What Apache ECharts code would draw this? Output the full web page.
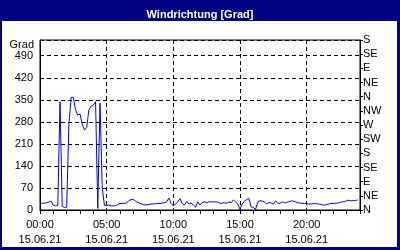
<!DOCTYPE html>
<html><head><meta charset="utf-8">
<script src="https://cdn.jsdelivr.net/npm/echarts@6/dist/echarts.min.js"></script>
<style>html,body{margin:0;padding:0;background:#fff}#c{width:400px;height:250px}</style>
</head><body><div id="c"></div>
<script>
var title = 'Windrichtung [Grad]';
var dateLabel = '15.06.21';
var stepMinutes = 10;
var leftTickLabels = [0, 70, 140, 210, 280, 350, 420, 490];
var compassLabels = ['N','NE','E','SE','S','SW','W','NW','N','NE','E','SE','S'];
var windDir = [
 22,21,22,23,25,28,15,13,14,344,12,8,9,270,358,358,318,302,305,272,
 254,262,318,330,333,344,5,340,70,15,14,16,13,13,14,17,21,21,21,22,
 30,33,34,28,24,21,18,16,16,18,19,19,20,21,21,22,23,26,38,21,
 13,19,26,36,20,16,27,19,22,16,9,26,16,24,26,23,26,26,26,26,
 25,21,22,23,21,26,23,32,26,19,2,19,28,33,37,10,8,2,25,30,
 28,26,19,24,22,19,29,22,21,26,23,24,26,29,28,26,23,22,21,21,
 20,19,19,20,21,19,19,16,16,17,19,21,21,21,22,24,26,26,30,31,
 29,30,30,32
];
var data = windDir.map(function(v,i){ return [i*stepMinutes, v]; });
var font = '"Liberation Sans Narrow","Liberation Sans",Arial,sans-serif';
var navy = '#000080';
var chart = echarts.init(document.getElementById('c'), null, {renderer:'canvas'});
chart.setOption({
  animation:false,
  backgroundColor:'#ffffff',
  title:{text:title, left:'center', top:4, textStyle:{color:'#fff', fontSize:11, fontWeight:'bold', fontFamily:'"Liberation Sans",Arial,sans-serif'}},
  grid:{left:40, right:40, top:40, bottom:40, show:true, borderColor:'#000', borderWidth:1, backgroundColor:'#fff'},
  graphic:[
    {type:'rect', shape:{x:0,y:0,width:400,height:21}, style:{fill:navy}, z:-1},
    {type:'rect', shape:{x:0,y:0,width:2,height:250}, style:{fill:navy}},
    {type:'rect', shape:{x:397,y:0,width:3,height:250}, style:{fill:navy}},
    {type:'rect', shape:{x:0,y:247,width:400,height:3}, style:{fill:navy}},
    {type:'text', style:{text:'Grad', x:34, y:45, align:'right', verticalAlign:'middle', fill:'#000', font:'11px '+font}}
  ],
  xAxis:{type:'value', min:0, max:1440, interval:300,
    axisLine:{show:true, lineStyle:{color:'#000', width:1}},
    axisTick:{show:true, length:4, lineStyle:{color:'#000'}},
    minorTick:{show:true, splitNumber:5, length:4, lineStyle:{color:'#000'}},
    splitLine:{show:true, lineStyle:{color:'#000', type:[4,3], width:1}},
    axisLabel:{showMaxLabel:false, margin:7, color:'#000', fontSize:11, fontFamily:font, lineHeight:15,
      formatter:function(v){ var h=Math.round(v/60); return (h<10?'0':'')+h+':00\n'+dateLabel; }}
  },
  yAxis:[
    {type:'value', min:0, max:540, interval:70, position:'left',
      axisLine:{show:true, lineStyle:{color:'#000'}},
      axisTick:{show:false},
      splitLine:{show:true, lineStyle:{color:'#000', type:[4,3], width:1}},
      axisLabel:{showMaxLabel:false, margin:7, color:'#000', fontSize:11, fontFamily:font,
        formatter:function(v){ return leftTickLabels.indexOf(v)>=0 ? String(v) : ''; }}
    },
    {type:'value', min:0, max:540, interval:45, position:'right',
      axisLine:{show:true, lineStyle:{color:'#000'}},
      axisTick:{show:true, length:3, lineStyle:{color:'#000'}},
      splitLine:{show:false},
      axisLabel:{margin:3, color:'#000', fontSize:11, fontFamily:font,
        formatter:function(v){ return compassLabels[Math.round(v/45)]; }}
    }
  ],
  series:[{type:'line', data:data, yAxisIndex:0, showSymbol:false, symbol:'none',
    lineStyle:{color:'#0000ff', width:1}, itemStyle:{color:'#0000ff'}}]
});
</script></body></html>
